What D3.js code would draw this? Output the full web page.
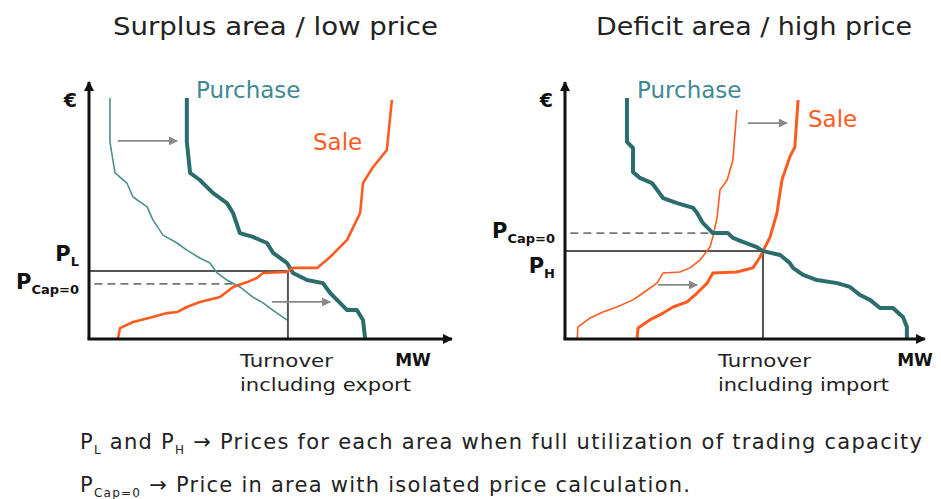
<!DOCTYPE html>
<html>
  <head>
    <script src="https://d3js.org/d3.v7.min.js"></script>
    <style>
      body { margin: 0; background: #fff; }
      text { font-family: "DejaVu Sans", Verdana, sans-serif; }
    </style>
  </head>
  <body>
    <script>
      // curves as [MW, price] on a 0-100 scale (schematic diagram)
      var surplusPurchaseOld = [[5.8,94.9],[5.8,77.6],[7.2,65.4],[10.5,61.4],[12.2,55.9],[16.1,52.0],[17.7,46.9],[20.5,40.9],[24.4,37.8],[27.1,35.0],[30.7,31.9],[33.5,29.9],[35.5,26.0],[38.2,23.2],[41.8,20.5],[45.4,16.5],[48.2,14.2],[50.9,11.4],[52.9,9.4],[54.8,7.5]];
      var surplusPurchaseNew = [[27.1,94.9],[27.1,77.6],[28.0,65.4],[30.7,62.6],[34.3,57.5],[38.2,53.5],[39.9,49.6],[41.8,41.7],[45.4,40.2],[49.3,37.8],[51.0,33.9],[54.8,30.0],[56.5,26.0],[60.4,23.2],[64.8,22.0],[66.8,18.1],[68.7,15.4],[71.5,11.4],[74.2,11.4],[75.9,7.5],[76.5,0]];
      var surplusSale = [[8.0,0],[8.6,4.3],[12.2,6.7],[17.7,8.7],[21.6,10.2],[24.4,10.6],[27.1,12.6],[30.7,14.6],[36.3,16.5],[39.9,20.5],[43.8,22.4],[46.5,24.0],[48.2,26.0],[54.8,26.4],[56.5,28.0],[63.2,28.0],[66.8,32.3],[71.5,39.0],[75.1,49.6],[75.9,61.4],[78.7,67.7],[82.5,74.4],[83.9,94.1]];

      var deficitPurchase = [[17.3,94.9],[17.3,77.6],[19.0,75.2],[19.0,65.7],[20.9,63.4],[24.3,61.4],[27.4,55.5],[31.3,53.5],[35.8,51.6],[36.9,49.6],[38.5,45.7],[41.3,41.7],[45.5,41.7],[46.9,39.8],[49.7,38.2],[53.6,36.2],[55.3,34.6],[60.1,33.1],[62.8,29.9],[63.7,28.0],[66.5,25.2],[70.4,23.2],[76.0,22.0],[79.6,20.5],[82.4,17.3],[85.2,15.4],[88.0,12.2],[91.6,12.2],[94.4,8.7],[95.5,4.7],[95.5,0]];
      var deficitSaleOld = [[3.4,0],[3.6,4.7],[7.0,8.3],[10.6,10.6],[14.5,12.6],[19.0,15.4],[21.8,18.1],[25.7,22.0],[27.4,26.0],[32.1,26.4],[34.9,28.0],[37.7,31.1],[40.5,36.2],[41.3,40.2],[42.5,48.0],[43.3,58.7],[45.3,62.6],[46.9,70.5],[48.0,90.2]];
      var deficitSaleNew = [[20.1,0],[20.4,4.3],[23.7,7.5],[27.4,10.2],[30.2,12.6],[34.1,14.6],[36.9,18.1],[39.7,22.0],[41.3,26.0],[48.0,26.4],[52.5,28.0],[54.5,32.3],[55.3,34.6],[57.3,40.2],[59.2,49.6],[60.6,62.6],[62.8,71.7],[64.2,75.6],[65.1,94.1]];

      // coupled price, turnover, isolated price
      var surplusMarket = {price: 26.8, turnover: 55.1, isolated: 21.7, isolatedX: 39.9};
      var deficitMarket = {price: 34.6, turnover: 55.3, isolated: 41.7, isolatedX: 41.3};

      // shift arrows [x1, x2, y]
      var surplusArrows = [[8.0,24.4,78.0],[50.7,66.8,14.6]];
      var deficitArrows = [[51.1,62.0,85.0],[26.0,36.9,21.3]];

      var titles = ["Surplus area / low price", "Deficit area / high price"];

      var W = 941, H = 499;
      var teal = "#2b6d6c", tealLight = "#4f8e8e", tealText = "#3f8a93",
          orange = "#ff5b1e", grey = "#555";

      var svg = d3.select("body").append("svg")
          .attr("width", W).attr("height", H);

      var defs = svg.append("defs");
      function marker(id, color, w, h) {
        defs.append("marker")
            .attr("id", id).attr("viewBox", "0 0 10 10")
            .attr("refX", 9).attr("refY", 5)
            .attr("markerWidth", w).attr("markerHeight", h)
            .attr("markerUnits", "userSpaceOnUse")
            .attr("orient", "auto")
          .append("path").attr("d", "M0,0L10,5L0,10z").attr("fill", color);
      }
      marker("axisHead", "#111", 12, 10);
      marker("greyHead", "#888", 11, 9);

      var line = d3.line();

      function panel(cfg) {
        var x = d3.scaleLinear().domain([0, 100]).range([cfg.x0, cfg.x1]);
        var y = d3.scaleLinear().domain([0, 100]).range([339, 85]);
        var g = svg.append("g");
        var lf = line.x(function(d) { return x(d[0]); }).y(function(d) { return y(d[1]); });

        // title
        g.append("text").attr("x", cfg.titleX).attr("y", 35)
            .attr("font-size", 25).attr("fill", "#222")
            .attr("textLength", cfg.titleW).attr("lengthAdjust", "spacingAndGlyphs")
            .text(cfg.title);

        // market price lines
        var m = cfg.market;
        g.append("path").attr("d", lf([[0, m.price], [m.turnover, m.price], [m.turnover, 0]]))
            .attr("fill", "none").attr("stroke", grey).attr("stroke-width", 2);
        g.append("path").attr("d", lf([[1.5, m.isolated], [m.isolatedX, m.isolated]]))
            .attr("fill", "none").attr("stroke", "#777").attr("stroke-width", 1.6)
            .attr("stroke-dasharray", "8,5");

        // curves
        cfg.curves.forEach(function(c) {
          g.append("path").attr("d", lf(c.data))
              .attr("fill", "none").attr("stroke", c.color)
              .attr("stroke-width", c.w).attr("stroke-linejoin", "round");
        });

        // shift arrows
        cfg.arrows.forEach(function(a) {
          g.append("path").attr("d", lf([[a[0], a[2]], [a[1], a[2]]]))
              .attr("stroke", "#888").attr("stroke-width", 1.6)
              .attr("marker-end", "url(#greyHead)");
        });

        // axes
        g.append("line").attr("x1", x(0)).attr("y1", y(0)).attr("x2", x(0)).attr("y2", 82)
            .attr("stroke", "#111").attr("stroke-width", 3).attr("marker-end", "url(#axisHead)");
        g.append("line").attr("x1", x(0) - 1.5).attr("y1", y(0)).attr("x2", cfg.axisEnd).attr("y2", y(0))
            .attr("stroke", "#111").attr("stroke-width", 3).attr("marker-end", "url(#axisHead)");

        g.append("text").attr("x", x(0) - 12).attr("y", 107).attr("text-anchor", "end")
            .attr("font-size", 19).attr("font-weight", "bold").attr("fill", "#111").text("€");
        g.append("text").attr("x", cfg.mwX).attr("y", 366).attr("text-anchor", "middle")
            .attr("font-size", 17).attr("font-weight", "bold").attr("fill", "#111").text("MW");

        g.append("text").attr("x", cfg.turnX).attr("y", 367).attr("font-size", 18)
            .attr("fill", "#222").attr("textLength", 93).attr("lengthAdjust", "spacingAndGlyphs")
            .text("Turnover");
        g.append("text").attr("x", cfg.turnX).attr("y", 391).attr("font-size", 18)
            .attr("fill", "#222").attr("textLength", 171).attr("lengthAdjust", "spacingAndGlyphs")
            .text(cfg.turnoverLabel);

        // price labels
        cfg.priceLabels.forEach(function(p) {
          var tx = g.append("text").attr("x", x(0) - 10).attr("y", y(p.v) + p.dy)
              .attr("text-anchor", "end").attr("font-weight", "bold").attr("fill", "#111");
          tx.append("tspan").attr("font-size", 21).text("P");
          tx.append("tspan").attr("font-size", 13).attr("dy", 5).text(p.sub);
        });

        // curve labels
        g.append("text").attr("x", cfg.purchaseX).attr("y", 98).attr("font-size", 23)
            .attr("fill", tealText).text("Purchase");
        g.append("text").attr("x", cfg.saleX).attr("y", cfg.saleY).attr("font-size", 23)
            .attr("fill", orange).text("Sale");
      }

      panel({
        title: titles[0], titleX: 113, titleW: 325, x0: 89, x1: 450, axisEnd: 452, mwX: 413, turnX: 240,
        market: surplusMarket, arrows: surplusArrows, turnoverLabel: "including export",
        purchaseX: 196, saleX: 313, saleY: 150,
        curves: [
          {data: surplusPurchaseOld, color: tealLight, w: 1.6},
          {data: surplusPurchaseNew, color: teal, w: 4},
          {data: surplusSale, color: orange, w: 2.6}
        ],
        priceLabels: [{v: surplusMarket.price, sub: "L", dy: -10}, {v: surplusMarket.isolated, sub: "Cap=0", dy: 5}]
      });

      panel({
        title: titles[1], titleX: 596, titleW: 316, x0: 565, x1: 923, axisEnd: 925, mwX: 915, turnX: 718,
        market: deficitMarket, arrows: deficitArrows, turnoverLabel: "including import",
        purchaseX: 637, saleX: 808, saleY: 127,
        curves: [
          {data: deficitSaleOld, color: orange, w: 1.6},
          {data: deficitSaleNew, color: orange, w: 3},
          {data: deficitPurchase, color: teal, w: 4}
        ],
        priceLabels: [{v: deficitMarket.isolated, sub: "Cap=0", dy: 5}, {v: deficitMarket.price, sub: "H", dy: 22}]
      });

      // footnotes
      var notes = svg.append("g").attr("fill", "#222");
      var n1 = notes.append("text").attr("x", 80).attr("y", 449).attr("font-size", 21)
          .attr("textLength", 842).attr("lengthAdjust", "spacing");
      n1.append("tspan").text("P");
      n1.append("tspan").attr("font-size", 12).attr("dy", 5).text("L");
      n1.append("tspan").attr("dy", -5).text(" and P");
      n1.append("tspan").attr("font-size", 12).attr("dy", 5).text("H");
      n1.append("tspan").attr("dy", -5).text(" → Prices for each area when full utilization of trading capacity");
      var n2 = notes.append("text").attr("x", 80).attr("y", 492).attr("font-size", 21)
          .attr("textLength", 610).attr("lengthAdjust", "spacing");
      n2.append("tspan").text("P");
      n2.append("tspan").attr("font-size", 12).attr("dy", 5).text("Cap=0");
      n2.append("tspan").attr("dy", -5).text(" → Price in area with isolated price calculation.");
    </script>
  </body>
</html>
